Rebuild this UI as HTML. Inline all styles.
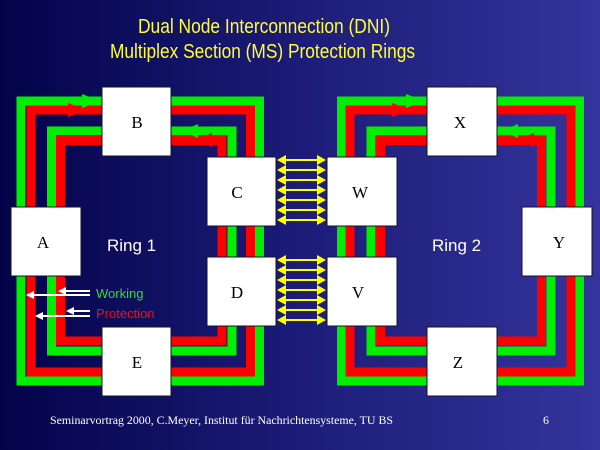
<!DOCTYPE html>
<html><head><meta charset="utf-8"><style>
html,body{margin:0;padding:0;width:600px;height:450px;overflow:hidden}
</style></head><body>
<svg width="600" height="450" viewBox="0 0 600 450" xmlns="http://www.w3.org/2000/svg">
<defs>
<linearGradient id="bg" x1="0" y1="0" x2="1" y2="0">
<stop offset="0" stop-color="#03034a"/><stop offset="0.5" stop-color="#1c1c78"/><stop offset="1" stop-color="#34349c"/>
</linearGradient>
</defs>
<rect width="600" height="450" fill="url(#bg)"/>
<g font-family="Liberation Sans, sans-serif" fill="#ffff33" font-size="20">
<text x="138" y="33" textLength="252" lengthAdjust="spacingAndGlyphs">Dual Node Interconnection (DNI)</text>
<text x="110" y="58" textLength="305" lengthAdjust="spacingAndGlyphs">Multiplex Section (MS) Protection Rings</text>
</g>
<g fill="none" stroke-width="9">
<rect x="21" y="101" width="238.5" height="280" stroke="#00ee00"/>
<rect x="31" y="110" width="219.5" height="262" stroke="#ff0000"/>
<rect x="51.5" y="131" width="180.5" height="220" stroke="#00ee00"/>
<rect x="60.5" y="140.5" width="161.5" height="200.5" stroke="#ff0000"/>
<rect x="341.5" y="101" width="238" height="280" stroke="#00ee00"/>
<rect x="350" y="110" width="221" height="262" stroke="#ff0000"/>
<rect x="371" y="131" width="180" height="220" stroke="#00ee00"/>
<rect x="380.5" y="140.5" width="161" height="200.5" stroke="#ff0000"/>
</g>
<g>
<polygon points="82,94 100,101 82,108" fill="#00ee00"/>
<polygon points="68,103 86,110 68,117" fill="#ff0000"/>
<polygon points="198,124 182,131 198,138" fill="#00ee00"/>
<polygon points="212,133 196,140 212,147" fill="#ff0000"/>
<polygon points="406,94 424,101 406,108" fill="#00ee00"/>
<polygon points="392,103 410,110 392,117" fill="#ff0000"/>
<polygon points="518,124 502,131 518,138" fill="#00ee00"/>
<polygon points="534,133 518,140 534,147" fill="#ff0000"/>
</g>
<g stroke="#ffff00" stroke-width="2" fill="#ffff00">
<g id="ya">
<line x1="280" y1="160" x2="323" y2="160"/><polygon points="277,160 286,155 286,165" stroke="none"/><polygon points="326,160 317,155 317,165" stroke="none"/>
</g>
<use href="#ya" y="10"/><use href="#ya" y="20"/><use href="#ya" y="30"/><use href="#ya" y="40"/><use href="#ya" y="50"/><use href="#ya" y="60"/>
<use href="#ya" y="100"/><use href="#ya" y="110"/><use href="#ya" y="120"/><use href="#ya" y="130"/><use href="#ya" y="140"/><use href="#ya" y="150"/><use href="#ya" y="160"/>
</g>
<g fill="#ffffff" stroke="#111133" stroke-width="1">
<rect x="102" y="87" width="69" height="69"/>
<rect x="11" y="207" width="70" height="69"/>
<rect x="207" y="157" width="69" height="69"/>
<rect x="207" y="257" width="69" height="69"/>
<rect x="102" y="327" width="69" height="69"/>
<rect x="427" y="87" width="70" height="69"/>
<rect x="327" y="157" width="70" height="69"/>
<rect x="327" y="257" width="70" height="69"/>
<rect x="522" y="207" width="70" height="69"/>
<rect x="427" y="327" width="70" height="69"/>
</g>
<g font-family="Liberation Serif, serif" font-size="17" fill="#000" text-anchor="middle">
<text x="137" y="128">B</text><text x="43" y="248">A</text><text x="237" y="198">C</text>
<text x="237" y="298">D</text><text x="137" y="368">E</text>
<text x="460" y="128">X</text><text x="360" y="198">W</text><text x="358" y="298">V</text>
<text x="559" y="248">Y</text><text x="458" y="368">Z</text>
</g>
<g font-family="Liberation Sans, sans-serif" font-size="17" fill="#ffffff">
<text x="107" y="251">Ring 1</text><text x="432" y="251">Ring 2</text>
</g>
<g stroke="#ffffff" stroke-width="2" fill="#ffffff">
<line x1="90" y1="291" x2="62" y2="291"/><polygon points="58,291 66,287 66,295" stroke="none"/>
<line x1="90" y1="295" x2="30" y2="295"/><polygon points="26,295 34,291 34,299" stroke="none"/>
<line x1="90" y1="311" x2="70" y2="311"/><polygon points="66,311 74,307 74,315" stroke="none"/>
<line x1="90" y1="316" x2="39" y2="316"/><polygon points="35,316 43,312 43,320" stroke="none"/>
</g>
<g font-family="Liberation Sans, sans-serif" font-size="13">
<text x="96" y="298" fill="#33dd33">Working</text>
<text x="96" y="318" fill="#ee1111">Protection</text>
</g>
<g font-family="Liberation Serif, serif" font-size="12" fill="#ffffff">
<text x="50" y="424" textLength="343" lengthAdjust="spacingAndGlyphs">Seminarvortrag 2000, C.Meyer,  Institut für Nachrichtensysteme, TU BS</text>
<text x="543" y="424">6</text>
</g>
</svg>
</body></html>
